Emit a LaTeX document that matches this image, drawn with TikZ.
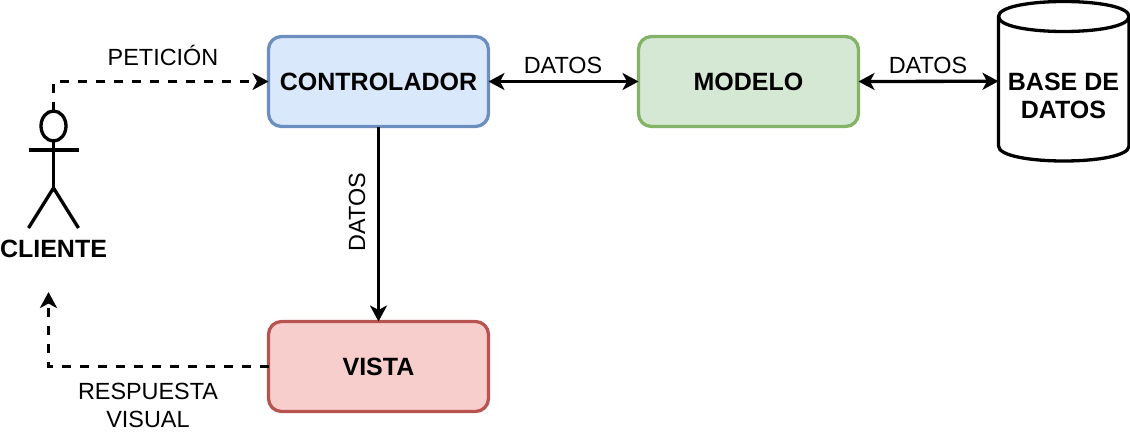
\documentclass[tikz,border=0pt]{standalone}
\usepackage{fontspec}
\setmainfont{Liberation Sans}
\usetikzlibrary{arrows.meta,shapes.geometric}
\definecolor{bluefill}{HTML}{DAE8FC}
\definecolor{blueline}{HTML}{6C8EBF}
\definecolor{greenfill}{HTML}{D5E8D4}
\definecolor{greenline}{HTML}{82B366}
\definecolor{redfill}{HTML}{F8CECC}
\definecolor{redline}{HTML}{B85450}
\tikzset{
  mvcbox/.style={draw,rounded corners=13pt,line width=3.3pt,outer sep=0pt,minimum width=220pt,minimum height=90pt,font=\fontsize{25}{28.5}\selectfont\bfseries},
  boldtext/.style={align=center,inner sep=0pt,font=\fontsize{25}{28.5}\selectfont\bfseries},
  plaintext/.style={align=center,inner sep=0pt,font=\fontsize{23.4}{28}\selectfont},
  dashedline/.style={dash pattern=on 9pt off 9pt},
}
\begin{document}
\begin{tikzpicture}[>={Stealth[length=16pt,width=17pt,inset=4.5pt]},x=1pt,y=-1pt,line width=3.3pt,line join=miter]
%%
\useasboundingbox (0,0) rectangle (1130,434);
\node (node_controlador) at (378.5,81.5) [mvcbox,draw=blueline,fill=bluefill] {CONTROLADOR};
  \node (node_modelo) at (748.5,81.5) [mvcbox,draw=greenline,fill=greenfill] {MODELO};
  \node (node_vista) at (378.5,366.5) [mvcbox,draw=redline,fill=redfill] {VISTA};
  \node (node_bd) at (1063.75,81.25) [draw,draw=none,outer sep=0pt,inner sep=0pt,minimum width=130.5pt,minimum height=159.5pt] {};
  \node (node_bdtext) at (1063.5,96) [boldtext] {BASE DE\\DATOS};
  \node (node_head) at (53.5,126) [draw,ellipse,outer sep=0pt,inner sep=0pt,minimum width=25pt,minimum height=30pt] {};
  \node (node_cliente) at (53.5,249) [boldtext] {CLIENTE};
  \node (node_peticion) at (163,55) [plaintext] {PETICIÓN};
  \node (node_datos_a) at (563,65) [plaintext] {DATOS};
  \node (node_datos_b) at (928,65) [plaintext] {DATOS};
  \node (node_datos_c) at (357,212) [plaintext,rotate=90] {DATOS};
  \node (node_respuesta) at (148,405) [plaintext] {RESPUESTA\\VISUAL};
%
  \draw [black] (998.5,16.5) ..controls (998.5,-3.5) and (1129,-3.5) .. (1129,16.5) -- (1129,146) ..controls (1129,166) and (998.5,166) .. (998.5,146) -- cycle;
  \draw [black] (998.5,16.5) ..controls (998.5,36.5) and (1129,36.5) .. (1129,16.5);
%
  \coordinate (hip) at (53.5,188);
  \coordinate (arm_l) at (28.5,150);
  \coordinate (arm_r) at (78.5,150);
  \coordinate (leg_l) at (28.5,228);
  \coordinate (leg_r) at (78.5,228);
  \coordinate (free_end) at (48.5,292);
  \draw [black] (node_head.south) -- (hip);
  \draw [black] (arm_l) -- (arm_r);
  \draw [black] (leg_l) -- (hip) -- (leg_r);
%
  \draw [black,->,dashedline] (node_head.north) |- (node_controlador.west);
  \draw [black,<->] (node_controlador.east) -- (node_modelo.west);
  \draw [black,<->] (node_modelo.east) -- (node_bd.west);
  \draw [black,->] (node_controlador.south) -- (node_vista.north);
  \draw [black,->,dashedline] (node_vista.west) -| (free_end);
%
\end{tikzpicture}
\end{document}
